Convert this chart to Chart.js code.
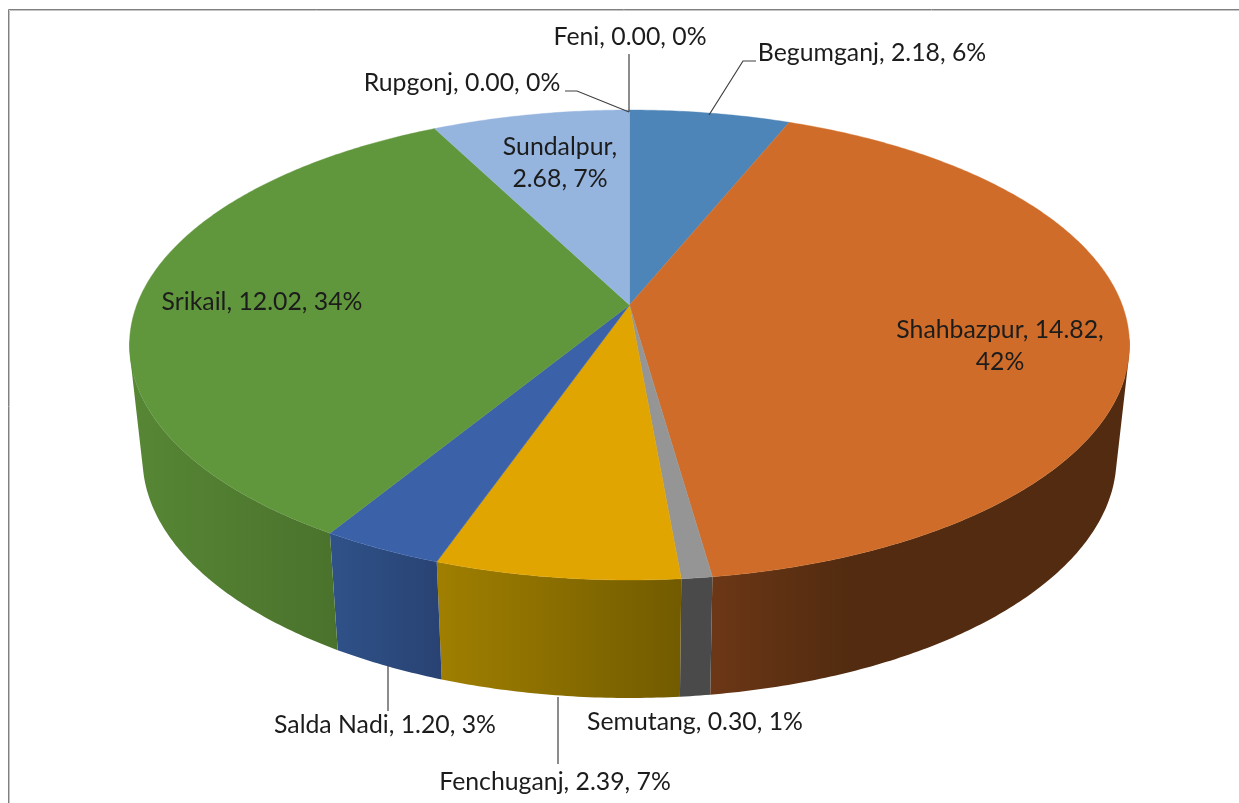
<!DOCTYPE html>
<html>
<head>
<meta charset="utf-8">
<style>html,body{margin:0;padding:0;background:#fff;overflow:hidden}canvas{display:block}</style>
<script src="https://cdn.jsdelivr.net/npm/chart.js@4"></script>
</head>
<body>
<canvas id="c" width="1239" height="803"></canvas>
<script>
// ---- data ----
const categories = ['Begumganj','Shahbazpur','Semutang','Fenchuganj','Salda Nadi','Srikail','Sundalpur','Rupgonj','Feni'];
const values     = [2.18,14.82,0.30,2.39,1.20,12.02,2.68,0.00,0.00];
const percents   = [6,42,1,7,3,34,7,0,0];
const topColors  = ['#4e85b8','#cf6c29','#959595','#e0a500','#3b62a9','#60963c','#95b5de','#8faadc','#a9d18e'];
const sideStops  = [['#3a6389','#3a6389'],['#6c3716','#522b10','#522b10','#522b10'],['#4a4a4a','#4a4a4a'],['#a07f00','#725b00'],['#2f5289','#294273'],['#578735','#4a722c'],['#6f87a6','#6f87a6'],['#666','#666'],['#666','#666']];

// ---- layout of the drawing ----
const FONT = '24.8px Lato, Carlito, sans-serif';
const CX = 629.5;
const labelLines = categories.map((c,i)=>{
  const v = values[i].toFixed(2), p = percents[i]+'%';
  if (c==='Shahbazpur') return [c+', '+v+',', p];
  if (c==='Sundalpur') return [c+',', v+', '+p];
  return [c+', '+v+', '+p];
});
const labelAnchors = [[872,53],[1000,330],[695,722],[555,782],[385,725],[262,302],[560,147],[462,83],[630,37]];
const lineGap = 32;
const leaders = [
  [[709,115],[743,61],[756,61]], null, null,
  [[558,697],[558,764]],
  [[388,665],[388,711]],
  null, null,
  [[565,91],[577,91],[629,112]],
  [[629,54],[629,112]]
];

// Perspective map from the unit disk (the pie's own arc geometry) onto the tilted top face
const PC = -80/470, PA = 195+110*PC, RX = 492.7, APEX_Y = 305;
function topFace(u,v){ const d = 1+PC*v; return [CX + RX*u/d, (PA*v+APEX_Y)/d]; }
function lowerRim(p){ return [CX + (p[0]-CX)*(487/500), 458 + (p[1]-345)*(240/235)]; }
function rim(a0,a1){ const n=Math.max(2,Math.ceil((a1-a0)/0.01)), out=[];
  for(let i=0;i<=n;i++){const a=a0+(a1-a0)*i/n; out.push(topFace(Math.cos(a),Math.sin(a)));} return out; }
function area(q){ let s=0; q.forEach((p,i)=>{const r=q[(i+1)%q.length]; s+=p[0]*r[1]-r[0]*p[1];}); return s; }

const pie3d = {
  id:'pie3d',
  beforeDatasetDraw(chart,args){
    const ctx=chart.ctx, arcs=chart.getDatasetMeta(args.index).data;
    ctx.save();
    // side wall: narrow quads of one winding in one path, front part only
    arcs.forEach((arc,i)=>{
      if(arc.endAngle-arc.startAngle<=0) return;
      const up=rim(arc.startAngle,arc.endAngle).filter(p=>p[1]>=338);
      if(up.length<2) return;
      const lo=up.map(lowerRim);
      const xs=up.concat(lo).map(p=>p[0]);
      const x0=Math.min(...xs), x1=Math.max(...xs);
      const g=ctx.createLinearGradient(x0,0,x1,0), st=sideStops[i];
      st.forEach((c,k)=>g.addColorStop(k/(st.length-1),c));
      ctx.fillStyle=g; ctx.strokeStyle=g; ctx.lineWidth=0.6;
      ctx.beginPath();
      for(let k=0;k<up.length-1;k++){
        let q=[up[k],up[k+1],lo[k+1],lo[k]];
        if(area(q)<0) q=q.reverse();
        ctx.moveTo(q[0][0],q[0][1]);
        for(let m=1;m<4;m++) ctx.lineTo(q[m][0],q[m][1]);
        ctx.closePath();
      }
      ctx.fill();
    });
    // top face
    arcs.forEach((arc,i)=>{
      if(arc.endAngle-arc.startAngle<=0) return;
      const up=rim(arc.startAngle,arc.endAngle), o=topFace(0,0);
      ctx.fillStyle=topColors[i]; ctx.strokeStyle=topColors[i]; ctx.lineWidth=0.4;
      ctx.beginPath(); ctx.moveTo(o[0],o[1]);
      up.forEach(p=>ctx.lineTo(p[0],p[1]));
      ctx.closePath(); ctx.fill(); ctx.stroke();
    });
    ctx.restore();
    return false;
  },
  afterDatasetsDraw(chart){
    const ctx=chart.ctx;
    ctx.save();
    // frame
    ctx.lineWidth=1;
    ctx.strokeStyle='#c4c4c4';
    ctx.beginPath(); ctx.moveTo(9.5,803); ctx.lineTo(9.5,10.5); ctx.lineTo(1239,10.5); ctx.stroke();
    ctx.strokeStyle='#808080';
    ctx.beginPath(); ctx.moveTo(8.5,803); ctx.lineTo(8.5,9.5); ctx.lineTo(1239,9.5); ctx.stroke();
    // leader lines
    ctx.strokeStyle='#404040'; ctx.lineWidth=1.2;
    leaders.forEach(l=>{ if(!l) return; ctx.beginPath();
      l.forEach((p,k)=>k?ctx.lineTo(p[0],p[1]):ctx.moveTo(p[0],p[1])); ctx.stroke(); });
    // labels
    ctx.font=FONT; ctx.fillStyle='#1c1c1c'; ctx.textAlign='center'; ctx.textBaseline='middle';
    labelLines.forEach((ls,i)=>ls.forEach((t,k)=>ctx.fillText(t,labelAnchors[i][0],labelAnchors[i][1]+k*lineGap)));
    ctx.restore();
  }
};

new Chart(document.getElementById('c'),{
  type:'pie',
  data:{labels:categories,datasets:[{data:values,backgroundColor:topColors,borderWidth:0}]},
  options:{responsive:false,animation:false,events:[],
    plugins:{legend:{display:false},tooltip:{enabled:false},title:{display:false}}},
  plugins:[pie3d]
});
</script>
</body>
</html>
